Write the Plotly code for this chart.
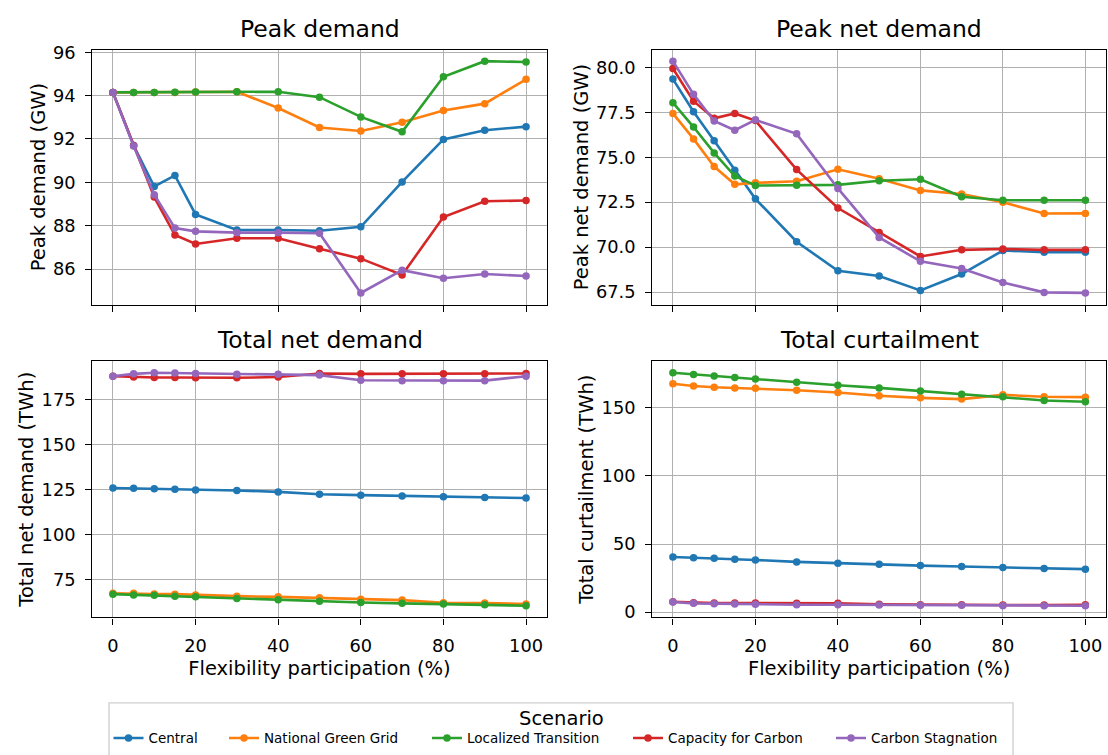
import plotly.graph_objects as go

flex = [0, 5, 10, 15, 20, 30, 40, 50, 60, 70, 80, 90, 100]
scenarios = ["Central", "National Green Grid", "Localized Transition", "Capacity for Carbon", "Carbon Stagnation"]
colors = ["#1f77b4", "#ff7f0e", "#2ca02c", "#d62728", "#9467bd"]

peak_demand = {
    "Central": [94.15, 91.70, 89.81, 90.32, 88.52, 87.80, 87.80, 87.77, 87.95, 90.02, 91.98, 92.40, 92.57],
    "National Green Grid": [94.15, 94.15, 94.15, 94.15, 94.17, 94.18, 93.43, 92.53, 92.37, 92.77, 93.31, 93.63, 94.75],
    "Localized Transition": [94.15, 94.15, 94.15, 94.16, 94.17, 94.18, 94.18, 93.93, 93.02, 92.33, 94.87, 95.59, 95.55],
    "Capacity for Carbon": [94.15, 91.70, 89.32, 87.57, 87.16, 87.42, 87.42, 86.94, 86.48, 85.73, 88.40, 89.13, 89.16],
    "Carbon Stagnation": [94.15, 91.68, 89.43, 87.89, 87.74, 87.68, 87.68, 87.65, 84.90, 85.95, 85.58, 85.77, 85.68],
}
peak_net_demand = {
    "Central": [79.36, 77.54, 75.92, 74.29, 72.69, 70.30, 68.68, 68.39, 67.59, 68.50, 69.81, 69.72, 69.72],
    "National Green Grid": [77.45, 76.03, 74.49, 73.50, 73.58, 73.67, 74.34, 73.81, 73.16, 72.96, 72.50, 71.87, 71.88],
    "Localized Transition": [78.05, 76.69, 75.25, 73.96, 73.43, 73.45, 73.47, 73.70, 73.78, 72.81, 72.61, 72.61, 72.61],
    "Capacity for Carbon": [79.95, 78.13, 77.18, 77.45, 77.05, 74.32, 72.18, 70.81, 69.48, 69.85, 69.90, 69.85, 69.85],
    "Carbon Stagnation": [80.36, 78.51, 77.03, 76.51, 77.09, 76.31, 73.27, 70.54, 69.21, 68.81, 68.03, 67.48, 67.45],
}
total_net_demand = {
    "Central": [125.9, 125.7, 125.5, 125.2, 124.8, 124.5, 123.7, 122.4, 121.9, 121.4, 121.0, 120.6, 120.3],
    "National Green Grid": [67.3, 67.3, 66.9, 66.8, 66.4, 65.7, 65.3, 64.8, 64.0, 63.5, 62.0, 61.9, 61.3],
    "Localized Transition": [66.8, 66.4, 66.2, 65.7, 65.3, 64.4, 63.7, 62.8, 62.2, 61.7, 61.3, 60.9, 60.4],
    "Capacity for Carbon": [188.1, 187.6, 187.4, 187.4, 187.2, 187.2, 187.6, 189.6, 189.4, 189.4, 189.4, 189.4, 189.6],
    "Carbon Stagnation": [188.1, 189.4, 190.0, 189.8, 189.6, 189.1, 189.1, 188.7, 185.8, 185.6, 185.6, 185.6, 188.1],
}
total_curtailment = {
    "Central": [40.5, 40.0, 39.5, 38.8, 38.3, 36.9, 35.9, 35.2, 34.2, 33.5, 32.8, 32.0, 31.6],
    "National Green Grid": [167.6, 165.9, 165.0, 164.5, 164.2, 162.8, 161.1, 158.7, 157.2, 156.3, 159.4, 158.0, 157.7],
    "Localized Transition": [175.6, 174.4, 173.2, 172.2, 171.0, 168.6, 166.4, 164.5, 162.3, 159.9, 158.0, 155.3, 154.3],
    "Capacity for Carbon": [7.7, 7.0, 6.8, 6.8, 6.8, 6.5, 6.5, 5.8, 5.5, 5.5, 5.3, 5.3, 5.5],
    "Carbon Stagnation": [7.5, 6.5, 6.3, 6.0, 5.8, 5.5, 5.5, 5.3, 5.1, 5.1, 4.8, 4.8, 4.8],
}

panels = [
    ("Peak demand", "Peak demand (GW)", peak_demand, [86, 88, 90, 92, 94, 96], "d"),
    ("Peak net demand", "Peak net demand (GW)", peak_net_demand, [67.5, 70.0, 72.5, 75.0, 77.5, 80.0], ".1f"),
    ("Total net demand", "Total net demand (TWh)", total_net_demand, [75, 100, 125, 150, 175], "d"),
    ("Total curtailment", "Total curtailment (TWh)", total_curtailment, [0, 50, 100, 150], "d"),
]
xticks = [0, 20, 40, 60, 80, 100]
legend_title = "Scenario"

W, H = 1108, 755
xdoms = [(92.3 / W, 546.7 / W), (652.3 / W, 1106 / W)]
ydoms = [(1 - 301.7 / H, 1 - 42.3 / H), (1 - 620 / H, 1 - 359.3 / H)]
# legend layout (pixels)
leg_box = (109, 707, 1013, 770)
leg_item_x = [114.5, 230, 433, 634, 837]
leg_item_y = 743
leg_title_y = 723

FONT = "DejaVu Sans"
fig = go.Figure()
annotations = []
for i, (title, ylabel, data, yt, fmt) in enumerate(panels):
    row, col = divmod(i, 2)
    ax = i + 1
    xa = "x" if ax == 1 else f"x{ax}"
    ya = "y" if ax == 1 else f"y{ax}"
    for k, (s, c) in enumerate(zip(scenarios, colors)):
        fig.add_trace(go.Scatter(
            x=flex, y=data[s], mode="lines+markers", name=s,
            line=dict(color=c, width=2.6), marker=dict(color=c, size=7.5),
            legendgroup=s, showlegend=(i == 0), xaxis=xa, yaxis=ya,
            legend="legend" if k == 0 else f"legend{k + 1}",
        ))
    allv = [v for s in scenarios for v in data[s]]
    lo, hi = min(allv), max(allv)
    pad = 0.05 * (hi - lo)
    common = dict(showline=True, linecolor="black", linewidth=1.4, mirror=True,
                  ticks="outside", ticklen=6, tickcolor="black", tickwidth=1.4,
                  showgrid=True, gridcolor="#b0b0b0", gridwidth=1.4, zeroline=False,
                  tickfont=dict(size=17.8, color="black", family=FONT))
    xkey = "xaxis" if ax == 1 else f"xaxis{ax}"
    ykey = "yaxis" if ax == 1 else f"yaxis{ax}"
    xlay = dict(domain=list(xdoms[col]), anchor=ya, range=[-5, 105],
                tickvals=xticks, showticklabels=(row == 1), ticklabelstandoff=6, **common)
    if row == 1:
        xlay["title"] = dict(text="Flexibility participation (%)",
                             font=dict(size=19.5, color="black", family=FONT), standoff=6)
    ylay = dict(domain=list(ydoms[row]), anchor=xa, range=[lo - pad, hi + pad],
                tickvals=yt, tickformat=fmt, ticklabelstandoff=6,
                title=dict(text=ylabel, font=dict(size=19.5, color="black", family=FONT), standoff=2),
                **common)
    fig.update_layout({xkey: xlay, ykey: ylay})
    annotations.append(dict(text=title, x=sum(xdoms[col]) / 2, y=ydoms[row][1],
                            xref="paper", yref="paper", xanchor="center", yanchor="bottom",
                            yshift=5, showarrow=False,
                            font=dict(size=23.5, color="black", family=FONT)))

annotations.append(dict(text=legend_title, x=(leg_box[0] + leg_box[2]) / 2 / W, y=1 - leg_title_y / H,
                        xref="paper", yref="paper", xanchor="center", yanchor="middle",
                        showarrow=False, font=dict(size=19.5, color="black", family=FONT)))

legends = {}
for k, lx in enumerate(leg_item_x):
    key = "legend" if k == 0 else f"legend{k + 1}"
    legends[key] = dict(
        orientation="h", x=(lx - 6) / W, xanchor="left", y=1 - leg_item_y / H, yanchor="middle",
        font=dict(size=13.5, family=FONT, color="black"), bgcolor="rgba(0,0,0,0)",
        borderwidth=0, itemwidth=30,
    )

fig.update_layout(
    width=W, height=H,
    margin=dict(l=0, r=0, t=0, b=0),
    paper_bgcolor="white", plot_bgcolor="white",
    font=dict(family=FONT, color="black"),
    annotations=annotations,
    shapes=[dict(type="rect", xref="paper", yref="paper",
                 x0=leg_box[0] / W, x1=leg_box[2] / W, y0=1 - leg_box[3] / H, y1=1 - leg_box[1] / H,
                 line=dict(color="#d0d0d0", width=1.4), fillcolor="white", layer="below")],
    **legends,
)

fig.write_html("out.html")
